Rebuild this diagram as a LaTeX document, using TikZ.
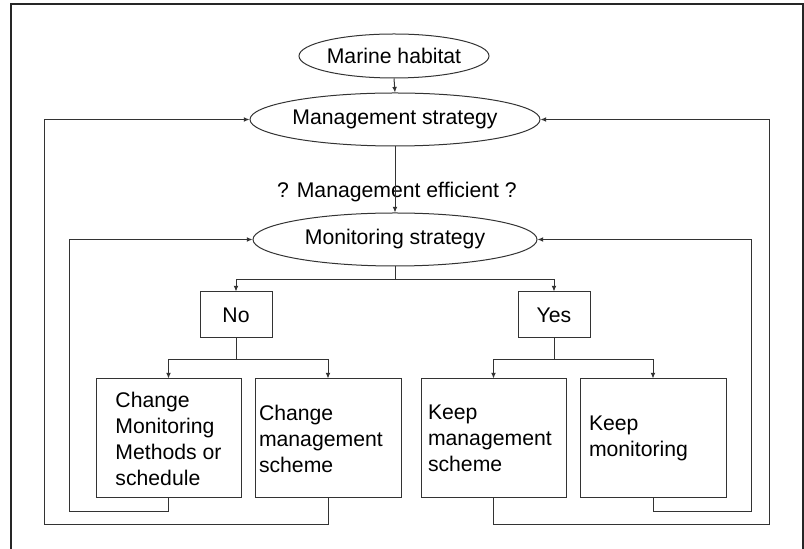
\documentclass[tikz,border=0pt]{standalone}
\usepackage{fontspec}
\setmainfont{Liberation Sans}
\usetikzlibrary{shapes.geometric,arrows.meta}

\begin{document}
\begin{tikzpicture}
  [x=0.5pt,y=-0.5pt,
   every node/.style={font=\fontsize{10.6}{13}\selectfont},
   oval/.style={ellipse,draw=black!80,line width=0.5pt,inner sep=0pt},
   box/.style={rectangle,draw=black!80,line width=0.5pt,minimum width=72.5pt,minimum height=59.5pt},
   choice/.style={rectangle,draw=black!80,line width=0.5pt,minimum width=36pt,minimum height=23pt},
   link/.style={draw=black!80,line width=0.5pt},
   arr/.style={link,-{Latex[length=2.8pt,width=2.4pt]}}]
  \useasboundingbox (0,0) rectangle (804,549);
  \draw[line width=0.75pt,black!85] (11,549) -- (11,4) -- (803,4) -- (803,549);

  \node[oval,minimum width=93.5pt,minimum height=22pt] (hab) at (394,56) {Marine habitat};
  \node[oval,minimum width=140.5pt,minimum height=26.5pt] (mgt) at (395,119.5) {Management strategy};
  \node[oval,minimum width=142pt,minimum height=26.5pt] (mon) at (395,239.5) {Monitoring strategy};
  \node (q) at (397,192) {? Management efficient ?};

  \node[choice] (no) at (236,315) {No};
  \node[choice] (yes) at (554,315) {Yes};

  \node[box,align=left,inner sep=0pt] (c1) at (168.5,438.5) {Change\\Monitoring\\Methods or\\schedule};
  \node[box,align=left,inner xsep=2pt,text width=69pt] (c2) at (328,438.5) {Change\\management\\scheme};
  \node[box,align=left,inner xsep=3.5pt,text width=65.5pt] (k1) at (493.5,438.5) {Keep\\management\\scheme};
  \node[box,align=left,inner xsep=4.5pt,text width=64pt] (k2) at (653,438.5) {Keep\\monitoring};

  \draw[arr] (hab.south) -- (mgt.north);
  \draw[arr] (mgt.south) -- (mon.north);

  \draw[link] (mon.south) -- ++(0,13) coordinate (s1);
  \draw[arr] (s1) -| (no.north);
  \draw[arr] (s1) -| (yes.north);

  \draw[link] (no.south) -- ++(0,21) coordinate (s2);
  \draw[arr] (s2) -| (c1.north);
  \draw[arr] (s2) -| (c2.north);
  \draw[link] (yes.south) -- ++(0,21) coordinate (s3);
  \draw[arr] (s3) -| (k1.north);
  \draw[arr] (s3) -| (k2.north);

  \draw[arr] (c1.south) -- ++(0,13) -| (69,239.5) -- (mon.west);
  \draw[arr] (c2.south) -- ++(0,26) -| (44,119.5) -- (mgt.west);
  \draw[arr] (k2.south) -- ++(0,13) -| (751,239.5) -- (mon.east);
  \draw[arr] (k1.south) -- ++(0,26) -| (769,119.5) -- (mgt.east);

\end{tikzpicture}
\end{document}
